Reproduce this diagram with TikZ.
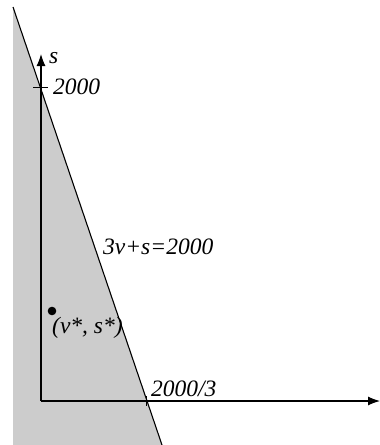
\documentclass[tikz,border=0pt]{standalone}
\usepackage{fontspec}
\setmainfont{Liberation Serif}
\usetikzlibrary{arrows.meta,positioning}

\begin{document}
\begin{tikzpicture}[x=1pt, y=-1pt,
  axis/.style={line width=1.1pt, -{Latex[length=12pt,width=9pt]}},
  tick/.style={line width=1pt},
  lbl/.style={font=\fontsize{23.5}{27}\selectfont\itshape, inner sep=0pt, anchor=base west}
]
\useasboundingbox (0,0) rectangle (380,445);
% feasible region
\fill[black!20] (13,7) -- (162,445) -- (13,445) -- cycle;
\coordinate (O) at (41,401);
\coordinate (vend) at (380,401);
\coordinate (send) at (41,54);
\draw[axis] (O) -- (vend);
\draw[axis] (O) -- (send);
% ticks
\coordinate (t1a) at (33,87);
\coordinate (t1b) at (48,87);
\coordinate (t2a) at (146,396);
\coordinate (t2b) at (146,406);
\draw[tick] (t1a) -- (t1b);
\draw[tick] (t2a) -- (t2b);
% constraint line
\coordinate (ltop) at (13,7);
\coordinate (lbot) at (162,445);
\draw[line width=1.1pt] (ltop) -- (lbot);
% labels
\node[lbl] (slabel) at (49,63) {s};
\node[lbl] (smax) at (53,94) {2000};
\node[lbl] (constr) at (103,254) {3v+s=2000};
\node[lbl] (vmax) at (151,396) {2000/3};
\fill (52,311) circle (4.3) coordinate (opt);
\node[lbl] (optlabel) at (52,333) {(v*, s*)};
\end{tikzpicture}
\end{document}
